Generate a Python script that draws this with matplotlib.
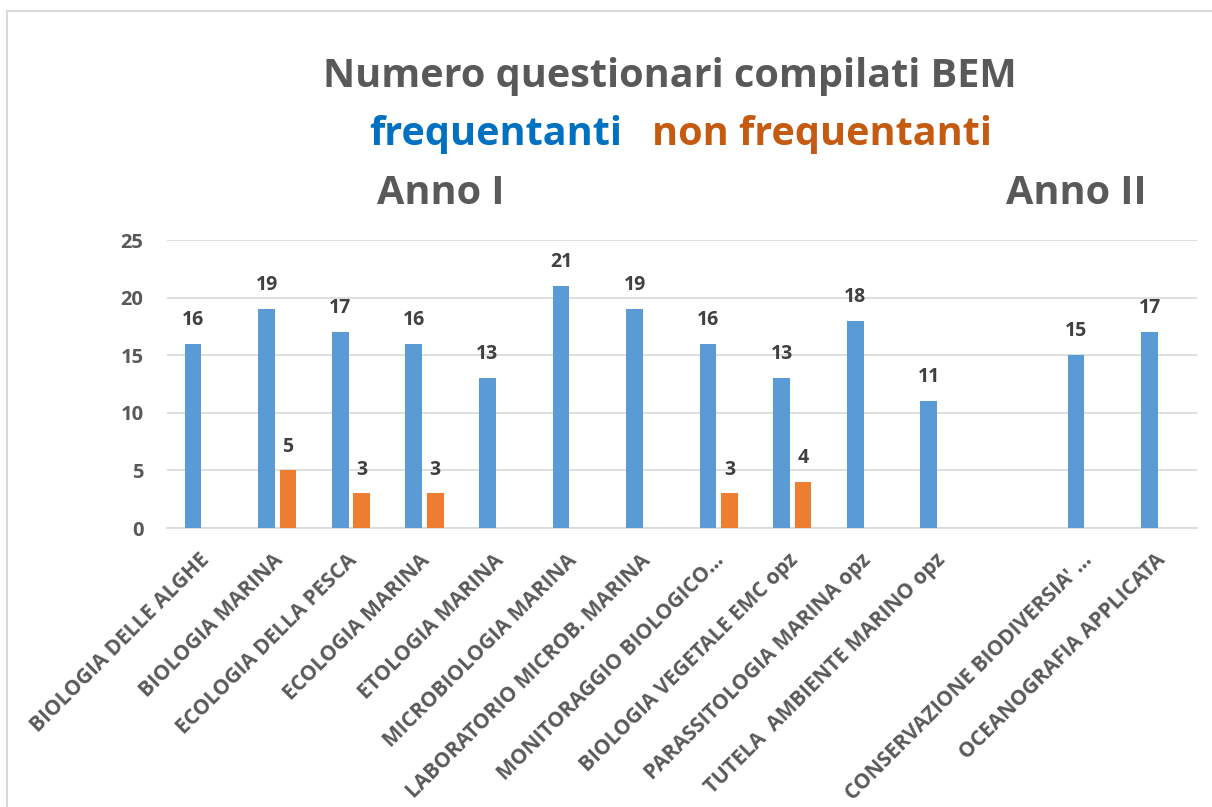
# Numero questionari compilati BEM - frequentanti / non frequentanti
import numpy as np
import matplotlib
matplotlib.use("Agg")
import matplotlib.pyplot as plt
from matplotlib.patches import Rectangle
from matplotlib.transforms import ScaledTranslation

plt.rcParams['font.family'] = ['Open Sans', 'DejaVu Sans']

# dati (slot vuoto tra Anno I e Anno II)
corsi = ["BIOLOGIA DELLE ALGHE", "BIOLOGIA MARINA", "ECOLOGIA DELLA PESCA",
         "ECOLOGIA MARINA", "ETOLOGIA MARINA", "MICROBIOLOGIA MARINA",
         "LABORATORIO MICROB. MARINA", "MONITORAGGIO BIOLOGICO…",
         "BIOLOGIA VEGETALE EMC opz", "PARASSITOLOGIA MARINA opz",
         "TUTELA  AMBIENTE MARINO opz", "",
         "CONSERVAZIONE BIODIVERSIA' …", "OCEANOGRAFIA APPLICATA"]
frequentanti = [16, 19, 17, 16, 13, 21, 19, 16, 13, 18, 11, None, 15, 17]
non_frequentanti = [None, 5, 3, 3, None, None, None, 3, 4, None, None, None, None, None]

blu = "#5B9BD5"
arancio = "#ED7D31"
grigio = "#595959"

fig = plt.figure(figsize=(12.12, 8.07), dpi=100)
ax = fig.add_axes([0.1378, 0.3457, 0.8498, 0.3569])

# cornice del grafico
fig.patches.append(Rectangle((7 / 1212, -0.1), 1.2, 1.1 - 11 / 807,
                             transform=fig.transFigure, fill=False,
                             edgecolor="#D9D9D9", linewidth=1.5))

x = np.arange(len(corsi))
w = 0.227
off = 0.145

for i in range(len(corsi)):
    if frequentanti[i] is not None:
        ax.bar(x[i] - off, frequentanti[i], width=w, color=blu, zorder=3)
        ax.text(x[i] - off, frequentanti[i] + 1.2, str(frequentanti[i]),
                ha="center", va="bottom", fontsize=14, fontweight="bold",
                color="#404040")
    if non_frequentanti[i] is not None:
        ax.bar(x[i] + off, non_frequentanti[i], width=w, color=arancio, zorder=3)
        ax.text(x[i] + off, non_frequentanti[i] + 1.2, str(non_frequentanti[i]),
                ha="center", va="bottom", fontsize=14, fontweight="bold",
                color="#404040")

ax.set_xlim(-0.5, len(corsi) - 0.5)
ax.set_ylim(0, 25)
ax.set_yticks([0, 5, 10, 15, 20, 25])
ax.yaxis.grid(True, color="#D9D9D9", linewidth=1.2, zorder=0)
ax.set_axisbelow(True)
for s in ["top", "right", "left"]:
    ax.spines[s].set_visible(False)
ax.spines["bottom"].set_color("#D9D9D9")
ax.spines["bottom"].set_linewidth(1.2)
ax.tick_params(axis="both", length=0)
ax.tick_params(axis="y", pad=17)

ax.set_xticks(x)
ax.set_xticklabels(corsi, rotation=45, ha="right", rotation_mode="anchor",
                   fontsize=15, fontweight="bold", color=grigio)
sposta = ScaledTranslation(-0.05, -0.17, fig.dpi_scale_trans)
for lab in ax.get_xticklabels():
    lab.set_transform(lab.get_transform() + sposta)
for lab in ax.get_yticklabels():
    lab.set_fontsize(14.5)
    lab.set_fontweight("bold")
    lab.set_color(grigio)

# titoli
fig.text(0.553, 0.905, "Numero questionari compilati BEM", ha="center", va="center",
         fontsize=28.5, fontweight="bold", color=grigio)
fig.text(0.4093, 0.833, "frequentanti", ha="center", va="center",
         fontsize=28.5, fontweight="bold", color="#0070C0")
fig.text(0.678, 0.833, "non frequentanti", ha="center", va="center",
         fontsize=28.5, fontweight="bold", color="#C55A11")
fig.text(0.364, 0.760, "Anno I", ha="center", va="center",
         fontsize=28.5, fontweight="bold", color=grigio)
fig.text(0.888, 0.760, "Anno II", ha="center", va="center",
         fontsize=28.5, fontweight="bold", color=grigio)

fig.savefig("out.png", dpi=100)
